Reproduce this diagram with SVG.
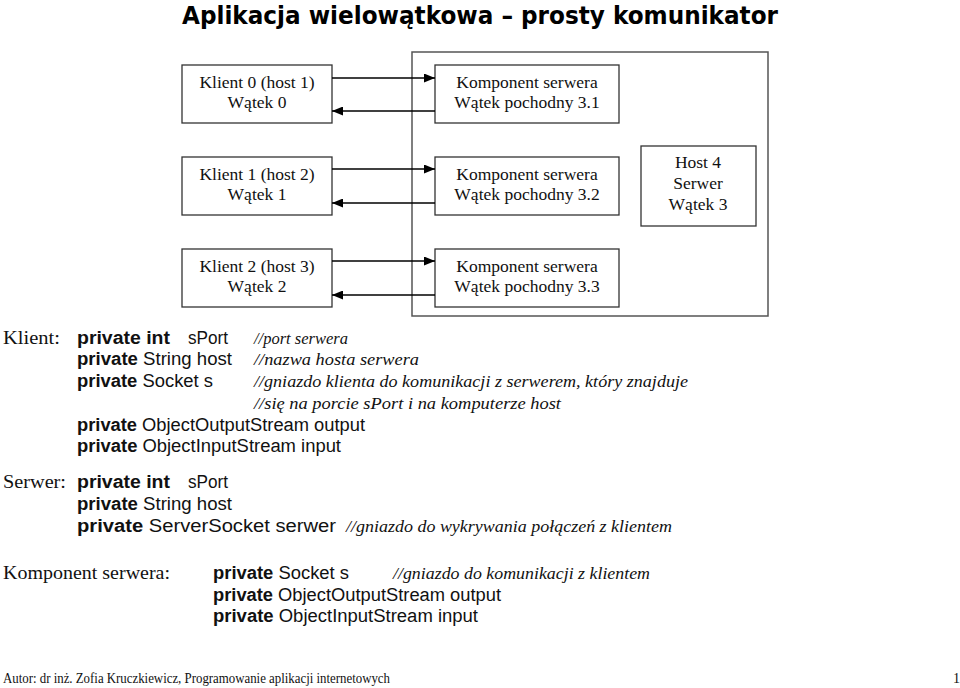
<svg xmlns="http://www.w3.org/2000/svg" width="960" height="688" viewBox="0 0 960 688">
<defs>
<marker id="ah" markerWidth="11" markerHeight="9" refX="11" refY="4.5" orient="auto" markerUnits="userSpaceOnUse">
<path d="M0,0 L11,4.5 L0,9 Z" fill="#000"/>
</marker>
<style>
.box{fill:#fff;stroke:#333;stroke-width:1.3}
.outer{fill:none;stroke:#555;stroke-width:1.5}
.lbl{font-family:"Liberation Serif","Times New Roman",serif;font-size:17.5px;fill:#111;text-anchor:middle}
.ser{font-family:"Liberation Serif","Times New Roman",serif;font-size:18px;fill:#111}
.code{font-family:"Liberation Sans",Arial,sans-serif;font-size:18px;fill:#111}
.b{font-weight:bold}
.cm{font-family:"Liberation Serif","Times New Roman",serif;font-style:italic;font-size:16.5px;fill:#111}
.conn{stroke:#000;stroke-width:1.3;fill:none}
.title{font-family:"DejaVu Sans","Liberation Sans",sans-serif;font-weight:bold;font-size:25px;fill:#000;text-anchor:middle}
.foot{font-family:"Liberation Serif","Times New Roman",serif;font-size:14px;fill:#111}
</style>
</defs>
<rect width="960" height="688" fill="#fff"/>
<text class="title" x="480" y="24" textLength="596" lengthAdjust="spacingAndGlyphs">Aplikacja wielowątkowa – prosty komunikator</text>

<g id="server-host">
<rect class="outer" x="412" y="52" width="356" height="264"/>
</g>

<g id="klient0">
<rect class="box" x="182" y="65" width="150" height="58"/>
<text class="lbl" x="257" y="88">Klient 0 (host 1)</text>
<text class="lbl" x="257" y="108">Wątek 0</text>
</g>
<g id="klient1">
<rect class="box" x="182" y="157" width="150" height="58"/>
<text class="lbl" x="257" y="180">Klient 1 (host 2)</text>
<text class="lbl" x="257" y="200">Wątek 1</text>
</g>
<g id="klient2">
<rect class="box" x="182" y="249" width="150" height="58"/>
<text class="lbl" x="257" y="272">Klient 2 (host 3)</text>
<text class="lbl" x="257" y="292">Wątek 2</text>
</g>

<g id="komp1">
<rect class="box" x="435" y="65" width="184" height="58"/>
<text class="lbl" x="527" y="88">Komponent serwera</text>
<text class="lbl" x="527" y="108">Wątek pochodny  3.1</text>
</g>
<g id="komp2">
<rect class="box" x="435" y="157" width="184" height="58"/>
<text class="lbl" x="527" y="180">Komponent serwera</text>
<text class="lbl" x="527" y="200">Wątek pochodny 3.2</text>
</g>
<g id="komp3">
<rect class="box" x="435" y="249" width="184" height="58"/>
<text class="lbl" x="527" y="272">Komponent serwera</text>
<text class="lbl" x="527" y="292">Wątek pochodny 3.3</text>
</g>

<g id="host4">
<rect class="box" x="641" y="146" width="115" height="80"/>
<text class="lbl" x="698" y="168">Host 4</text>
<text class="lbl" x="698" y="189">Serwer</text>
<text class="lbl" x="698" y="210">Wątek 3</text>
</g>

<g id="connectors">
<line class="conn" x1="332" y1="78" x2="435" y2="78" marker-end="url(#ah)"/>
<line class="conn" x1="435" y1="111" x2="332" y2="111" marker-end="url(#ah)"/>
<line class="conn" x1="332" y1="169" x2="435" y2="169" marker-end="url(#ah)"/>
<line class="conn" x1="435" y1="203" x2="332" y2="203" marker-end="url(#ah)"/>
<line class="conn" x1="332" y1="261" x2="435" y2="261" marker-end="url(#ah)"/>
<line class="conn" x1="435" y1="295" x2="332" y2="295" marker-end="url(#ah)"/>
</g>

<g id="klient-desc">
<text class="ser" x="3" y="344" textLength="57" lengthAdjust="spacingAndGlyphs">Klient:</text>
<text class="code b" x="77" y="344" textLength="93" lengthAdjust="spacingAndGlyphs">private int</text>
<text class="code" x="188" y="344" textLength="40" lengthAdjust="spacingAndGlyphs">sPort</text>
<text class="code" x="77" y="365" textLength="155" lengthAdjust="spacingAndGlyphs"><tspan class="b">private</tspan> String host</text>
<text class="code" x="77" y="387" textLength="136" lengthAdjust="spacingAndGlyphs"><tspan class="b">private</tspan> Socket s</text>
<text class="code" x="77" y="431" textLength="288" lengthAdjust="spacingAndGlyphs"><tspan class="b">private</tspan> ObjectOutputStream output</text>
<text class="code" x="77" y="452" textLength="264" lengthAdjust="spacingAndGlyphs"><tspan class="b">private</tspan> ObjectInputStream input</text>
<text class="cm" x="254" y="344">//port serwera</text>
<text class="cm" x="254" y="365" textLength="165" lengthAdjust="spacingAndGlyphs">//nazwa hosta serwera</text>
<text class="cm" x="254" y="387" textLength="434" lengthAdjust="spacingAndGlyphs">//gniazdo klienta do komunikacji z serwerem, który znajduje</text>
<text class="cm" x="254" y="409" textLength="307" lengthAdjust="spacingAndGlyphs">//się  na porcie sPort i na komputerze host</text>
</g>

<g id="serwer-desc">
<text class="ser" x="3" y="488" textLength="63" lengthAdjust="spacingAndGlyphs">Serwer:</text>
<text class="code b" x="77" y="488" textLength="93" lengthAdjust="spacingAndGlyphs">private int</text>
<text class="code" x="188" y="488" textLength="40" lengthAdjust="spacingAndGlyphs">sPort</text>
<text class="code" x="77" y="510" textLength="155" lengthAdjust="spacingAndGlyphs"><tspan class="b">private</tspan> String host</text>
<text class="code" x="77" y="532" textLength="259" lengthAdjust="spacingAndGlyphs"><tspan class="b">private</tspan> ServerSocket serwer</text>
<text class="cm" x="346" y="532" textLength="326" lengthAdjust="spacingAndGlyphs">//gniazdo do wykrywania połączeń z klientem</text>
</g>

<g id="komponent-desc">
<text class="ser" x="3" y="579" textLength="167" lengthAdjust="spacingAndGlyphs">Komponent serwera:</text>
<text class="code" x="213" y="579" textLength="136" lengthAdjust="spacingAndGlyphs"><tspan class="b">private</tspan> Socket s</text>
<text class="cm" x="393" y="579" textLength="257" lengthAdjust="spacingAndGlyphs">//gniazdo do komunikacji z klientem</text>
<text class="code" x="213" y="601" textLength="288" lengthAdjust="spacingAndGlyphs"><tspan class="b">private</tspan> ObjectOutputStream output</text>
<text class="code" x="213" y="622" textLength="265" lengthAdjust="spacingAndGlyphs"><tspan class="b">private</tspan> ObjectInputStream input</text>
</g>

<g id="footer">
<text class="foot" x="3" y="683" textLength="387" lengthAdjust="spacingAndGlyphs">Autor:  dr inż. Zofia Kruczkiewicz, Programowanie aplikacji internetowych</text>
<text class="foot" x="953" y="683">1</text>
</g>
</svg>
